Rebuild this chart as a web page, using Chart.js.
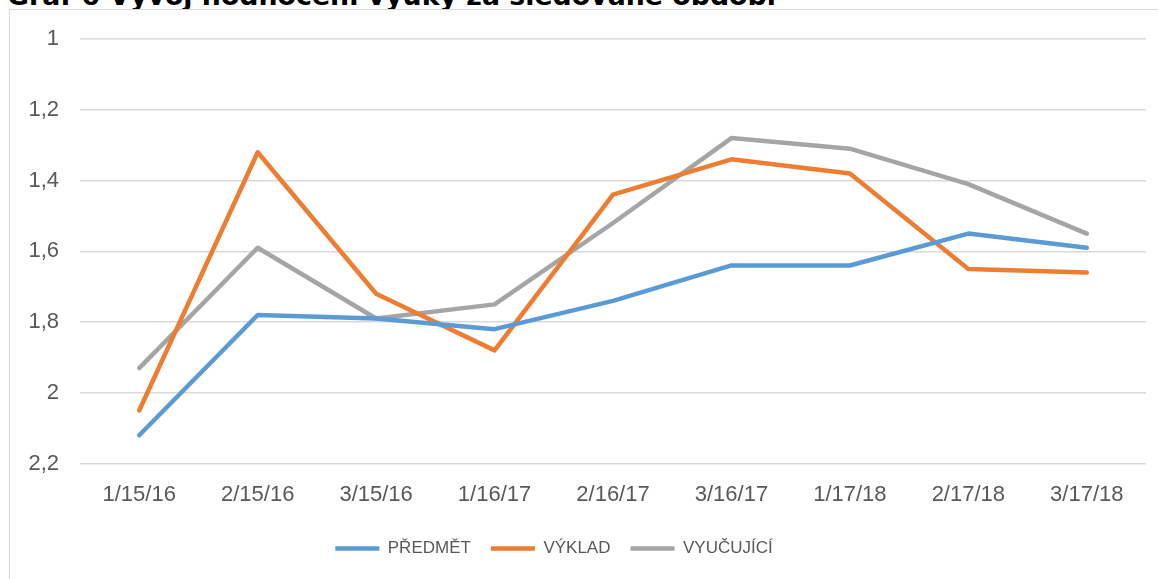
<!DOCTYPE html>
<html><head><meta charset="utf-8">
<script src="https://cdn.jsdelivr.net/npm/chart.js@4/dist/chart.umd.min.js"></script>
<style>
html,body{margin:0;padding:0;background:#fff;overflow:hidden;}
#title{position:absolute;left:7px;top:-20px;font:bold 26.8px "DejaVu Sans",Verdana,sans-serif;color:#000;white-space:nowrap;}
#box{position:absolute;left:9px;top:9px;width:1160px;height:580px;border:1px solid #D9D9D9;background:#fff;}
#wrap{position:absolute;left:10px;top:10px;width:1148px;height:569px;}
</style></head>
<body>
<div id="title">Graf 6 Vývoj hodnocení výuky za sledované období</div>
<div id="box"></div>
<div id="wrap"><canvas id="c"></canvas></div>
<script>
const categories = ["1/15/16","2/15/16","3/15/16","1/16/17","2/16/17","3/16/17","1/17/18","2/17/18","3/17/18"];
const predmet = [2.12,1.78,1.79,1.82,1.74,1.64,1.64,1.55,1.59];
const vyklad = [2.05,1.32,1.72,1.88,1.44,1.34,1.38,1.65,1.66];
const vyucujici = [1.93,1.59,1.79,1.75,1.52,1.28,1.31,1.41,1.55];
const seriesNames = ["PŘEDMĚT","VÝKLAD","VYUČUJÍCÍ"];
const yTicks = [1,1.2,1.4,1.6,1.8,2,2.2];

const colors = ["#5B9BD5","#ED7D31","#A5A5A5"];
const font = '"Liberation Sans", Arial, sans-serif';
function ds(label, data, color){
  return {label, data, borderColor: color, backgroundColor: color, borderWidth: 4.5,
    pointRadius: 0, pointHoverRadius: 0, tension: 0, borderCapStyle: 'round', borderJoinStyle: 'round', fill: false};
}
const legendShift = {
  id: 'legendShift',
  afterLayout(chart) {
    const l = chart.legend;
    if (l) { l.left -= 24; l.right -= 24; l.top -= 6; l.bottom -= 6; }
  }
};
new Chart(document.getElementById('c'), {
  type: 'line',
  data: { labels: categories, datasets: [
    ds(seriesNames[0], predmet, colors[0]),
    ds(seriesNames[1], vyklad, colors[1]),
    ds(seriesNames[2], vyucujici, colors[2])
  ]},
  options: {
    responsive: true, maintainAspectRatio: false, animation: false,
    layout: { padding: { top: 29, right: 12, left: 0, bottom: 6 } },
    plugins: {
      legend: { position: 'bottom', labels: { usePointStyle: true, pointStyle: 'line', pointStyleWidth: 44,
        color: '#595959', font: { family: font, size: 17 }, padding: 20 } },
      tooltip: { enabled: false }
    },
    scales: {
      x: { offset: true, grid: { display: false, drawTicks: false }, border: { display: false },
        ticks: { color: '#595959', font: { family: font, size: 22 }, padding: 18, maxRotation: 0 } },
      y: { reverse: true, min: 1, max: 2.2,
        afterBuildTicks: (s) => { s.ticks = yTicks.map(v => ({ value: v })); },
        afterFit: (s) => { s.width = 70; },
        grid: { color: '#D9D9D9', lineWidth: 1.5, drawTicks: true, tickLength: 21, tickColor: 'rgba(0,0,0,0)' },
        border: { display: false },
        ticks: { color: '#595959', font: { family: font, size: 22 }, padding: 0,
          callback: (v) => String(v).replace('.', ',') } }
    }
  },
  plugins: [legendShift]
});
</script>
</body></html>
